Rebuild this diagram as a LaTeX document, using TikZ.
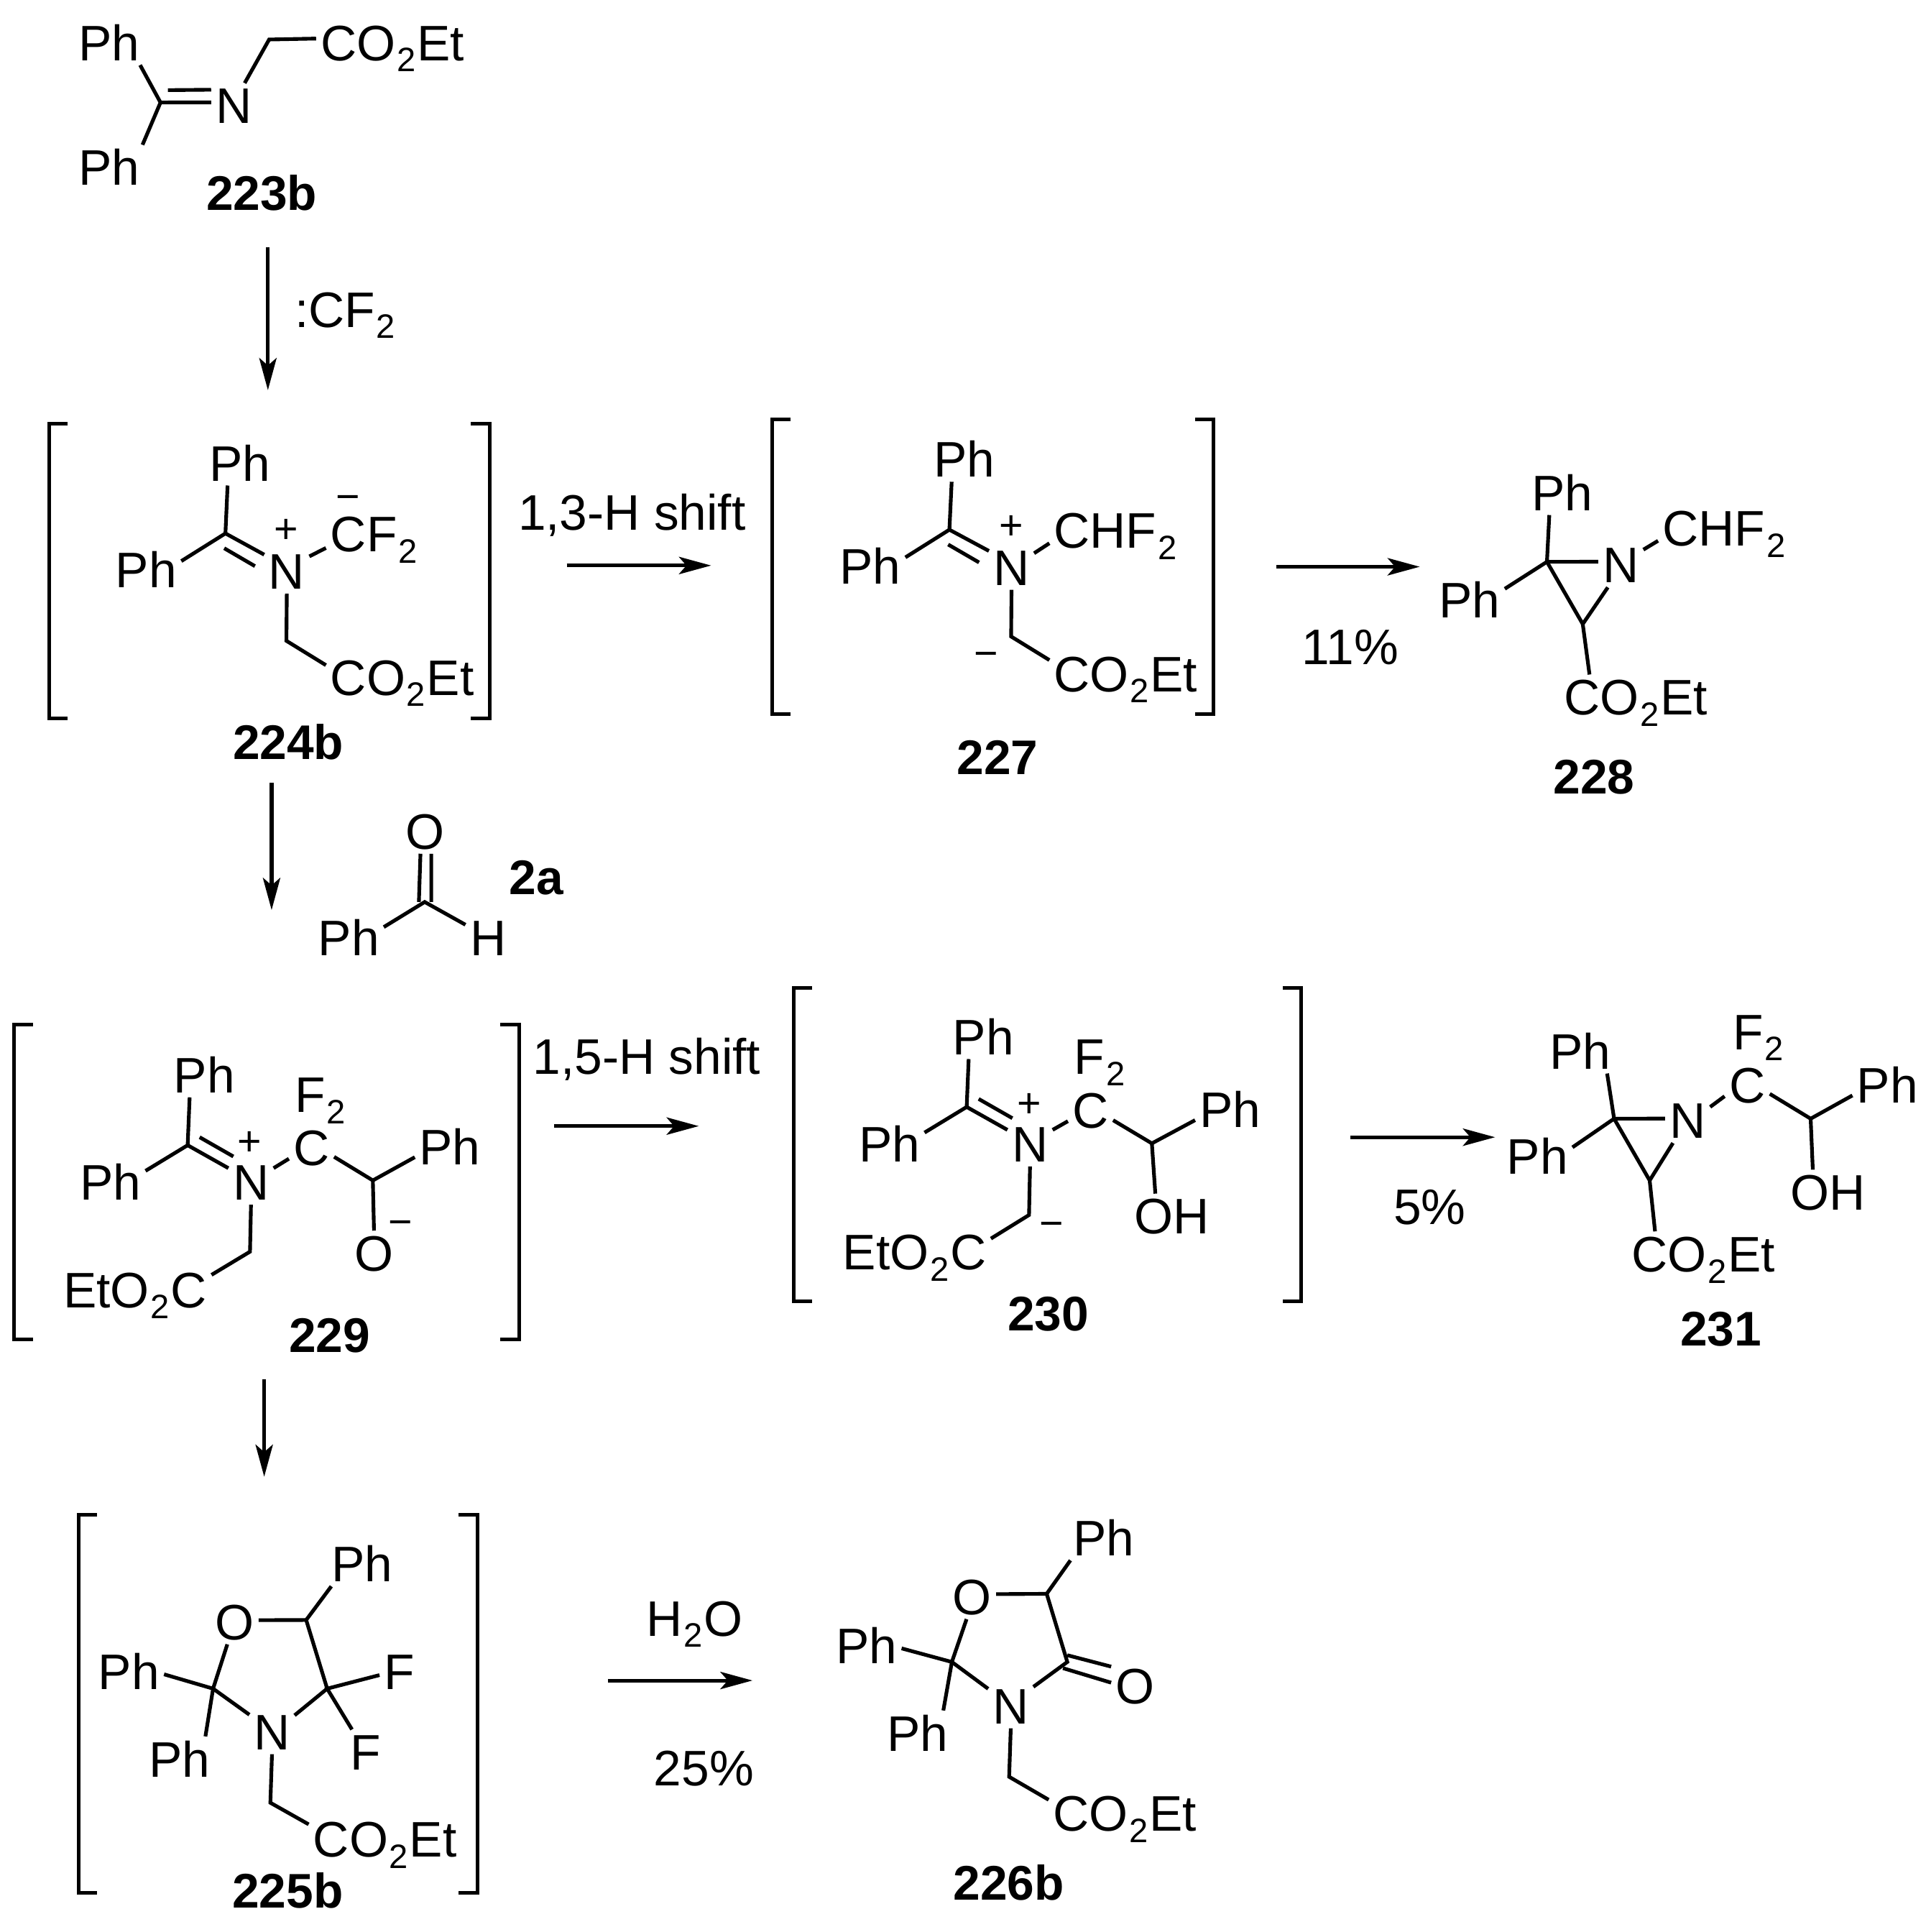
\documentclass[tikz,border=0pt]{standalone}
\usepackage{fontspec}
\setmainfont{Liberation Sans}
\usetikzlibrary{arrows.meta}
\newcommand{\subtwo}{\kern.3pt\raisebox{-2.6pt}{\fontsize{7.8}{8}\selectfont 2}\kern.3pt}
\newcommand{\COEt}{CO\subtwo Et}
\newcommand{\EtOC}{EtO\subtwo C}
\tikzset{
 bond/.style={black, line width=.85pt},
 atom/.style={font=\fontsize{11.5}{14}\selectfont, anchor=base west, inner sep=.03cm, text height=.29cm, text depth=0pt, xshift=-.06cm},
 num/.style={font=\fontsize{11.2}{14}\selectfont\bfseries, anchor=base, inner sep=0pt},
 chg/.style={font=\fontsize{9.5}{11}\selectfont, inner sep=0pt},
 neg/.style={chg, yshift=-.06cm},
 rxn/.style={bond, -{Stealth[length=.26cm, width=.14cm, inset=.06cm]}}
}
\begin{document}
\begin{tikzpicture}[x=.01cm, y=-.01cm]
\useasboundingbox (0,0) rectangle (1560,1564.7);
\foreach \xl/\xr/\yt/\yb in {40/396.5/343/582, 625.5/983/339.5/578.5, 11.5/420.4/830/1084.5, 643/1054/800/1054, 63.7/386.6/1226.6/1533} {
 \draw[bond] (\xl+15,\yt) -- (\xl,\yt) -- (\xl,\yb) -- (\xl+15,\yb);
 \draw[bond] (\xr-15,\yt) -- (\xr,\yt) -- (\xr,\yb) -- (\xr-15,\yb);
}
\foreach \n/\xa/\ya/\xb/\yb in {a/217/200/217/316, b/220/634/220/737, c/214/1117/214/1196, d/459/458/576/458, e/1034/459/1150/459, f/449/912/566/912, g/1094/921/1211/921, h/492.5/1361/609.5/1361} {
 \coordinate (\n s) at (\xa,\ya);
 \coordinate (\n e) at (\xb,\yb);
 \draw[rxn] (\n s) -- (\n e);
}
\node[atom] (cf) at (241,265) {:CF\subtwo};
\node[atom] (sh13) at (422,429.5) {1,3-H shift};
\node[atom] (y11) at (1057,538) {11\%};
\node[atom] (sh15) at (434,870) {1,5-H shift};
\node[atom] (y5) at (1131,991.6) {5\%};
\node[atom] (water) at (526,1325) {H\subtwo O};
\node[atom] (y25) at (532,1446) {25\%};

\coordinate (v223) at (130,83);
\coordinate (w223) at (136,73);
\coordinate (ch223) at (218,32);
\node[atom] (ph223a) at (66,49) {Ph};
\node[atom] (ph223b) at (66,150) {Ph};
\node[atom] (n223) at (177,100) {N};
\node[atom] (co223) at (262,49) {\COEt};
\node[num] (l223) at (212,170) {223b};
\draw[bond] (ph223a.-36) -- (v223) -- (ph223b.34);
\draw[bond] (v223) -- (n223.172);
\draw[bond] (w223) -- (n223.145);
\draw[bond] (n223.64) -- (ch223) -- (co223.177);

\coordinate (v224) at (182.6,432);
\coordinate (wa224) at (181.6,444);
\coordinate (wb224) at (206.5,458.5);
\coordinate (ch224) at (232,519);
\node[atom] (ph224a) at (172,389.5) {Ph};
\node[atom] (ph224b) at (96,476) {Ph};
\node[atom] (n224) at (220,477) {N};
\node[atom] (cf224) at (270,447) {CF\subtwo};
\node[atom] (co224) at (270,563) {\COEt};
\node[chg] (p224) at (232,430) {+};
\node[neg] (m224) at (282,401.6) {−};
\node[num] (l224) at (233.5,615) {224b};
\draw[bond] (ph224a.-119) -- (v224) -- (ph224b.14);
\draw[bond] (v224) -- (n224.144);
\draw[bond] (wa224) -- (wb224);
\draw[bond] (n224.33) -- (cf224.196);
\draw[bond] (n224.-90) -- (ch224) -- (co224.171);

\coordinate (v227) at (769,429);
\coordinate (wa227) at (768,441);
\coordinate (wb227) at (793,455.5);
\coordinate (ch227) at (819,515.5);
\node[atom] (ph227a) at (758.5,386.5) {Ph};
\node[atom] (ph227b) at (682.5,473) {Ph};
\node[atom] (n227) at (807,474) {N};
\node[atom] (chf227) at (856,444) {CHF\subtwo};
\node[atom] (co227) at (856,560) {\COEt};
\node[chg] (p227) at (819,427.5) {+};
\node[neg] (m227) at (799,528.5) {−};
\node[num] (l227) at (808,627) {227};
\draw[bond] (ph227a.-119) -- (v227) -- (ph227b.14);
\draw[bond] (v227) -- (n227.144);
\draw[bond] (wa227) -- (wb227);
\draw[bond] (n227.32) -- (chf227.191);
\draw[bond] (n227.-90) -- (ch227) -- (co227.170);

\coordinate (a228) at (1253,455);
\coordinate (b228) at (1282,505.4);
\node[atom] (ph228a) at (1243,413.4) {Ph};
\node[atom] (ph228b) at (1168,500.6) {Ph};
\node[atom] (n228) at (1300.5,472) {N};
\node[atom] (chf228) at (1349,442) {CHF\subtwo};
\node[atom] (co228) at (1269,579) {\COEt};
\node[num] (l228) at (1291,643) {228};
\draw[bond] (ph228a.-120) -- (a228) -- (ph228b.18);
\draw[bond] (a228) -- (n228.172);
\draw[bond] (a228) -- (b228) -- (n228.-120);
\draw[bond] (b228) -- (co228.154);
\draw[bond] (n228.34) -- (chf228.191);

\coordinate (v2a) at (344,730.5);
\coordinate (wa2a) at (339.3,730.5);
\coordinate (wb2a) at (349.3,730.5);
\node[atom] (o2a) at (331,687.7) {O};
\node[atom] (ph2a) at (260,774) {Ph};
\node[atom] (h2a) at (383,774) {H};
\node[num, anchor=base west] (l2a) at (412,724.5) {2a};
\draw[bond] (o2a.-102) -- (wa2a);
\draw[bond] (o2a.-75) -- (wb2a);
\draw[bond] (ph2a.17) -- (v2a) -- (h2a.150);

\coordinate (v229) at (152,927.5);
\coordinate (wa229) at (161.7,921);
\coordinate (wb229) at (189,936.6);
\coordinate (ch229) at (302,956);
\coordinate (cj229) at (202.5,1013.7);
\node[atom] (ph229a) at (143,885) {Ph};
\node[atom] (ph229b) at (67,972) {Ph};
\node[atom] (n229) at (191,972) {N};
\node[atom] (c229) at (240,944) {C};
\node[atom] (f229) at (241,901) {F\subtwo};
\node[atom] (ph229c) at (342,943) {Ph};
\node[atom] (o229) at (289.5,1029.4) {O};
\node[atom] (eto229) at (53.7,1059) {\EtOC};
\node[chg] (p229) at (202,926) {+};
\node[neg] (m229) at (324.4,989) {−};
\node[num] (l229) at (267,1095.5) {229};
\draw[bond] (ph229a.-123) -- (v229) -- (ph229b.18);
\draw[bond] (v229) -- (n229.148);
\draw[bond] (wa229) -- (wb229);
\draw[bond] (n229.32) -- (c229.206);
\draw[bond] (c229.-22) -- (ch229) -- (ph229c.-163);
\draw[bond] (ch229) -- (o229.90);
\draw[bond] (n229.-90) -- (cj229) -- (eto229.11);

\coordinate (v230) at (783,896.5);
\coordinate (wa230) at (792.7,890);
\coordinate (wb230) at (820,905.6);
\coordinate (ch230) at (933,926);
\coordinate (cj230) at (833.5,984);
\node[atom] (ph230a) at (774,854) {Ph};
\node[atom] (ph230b) at (698,941) {Ph};
\node[atom] (n230) at (822,941) {N};
\node[atom] (c230) at (871,913.6) {C};
\node[atom] (f230) at (872.5,870) {F\subtwo};
\node[atom] (ph230c) at (974,913) {Ph};
\node[atom] (oh230) at (921,999.4) {OH};
\node[atom] (eto230) at (685,1028.5) {\EtOC};
\node[chg] (p230) at (833.5,895) {+};
\node[neg] (m230) at (852,990) {−};
\node[num] (l230) at (849,1078) {230};
\draw[bond] (ph230a.-123) -- (v230) -- (ph230b.18);
\draw[bond] (v230) -- (n230.148);
\draw[bond] (wa230) -- (wb230);
\draw[bond] (n230.32) -- (c230.206);
\draw[bond] (c230.-24) -- (ch230) -- (ph230c.-163);
\draw[bond] (ch230) -- (oh230.126);
\draw[bond] (n230.-90) -- (cj230) -- (eto230.10);

\coordinate (a231) at (1307.4,906);
\coordinate (b231) at (1336.2,956);
\coordinate (ch231) at (1466.6,906);
\node[atom] (ph231a) at (1257.6,865.7) {Ph};
\node[atom] (ph231b) at (1222.8,950.8) {Ph};
\node[atom] (n231) at (1354.6,922) {N};
\node[atom] (c231) at (1402.9,893) {C};
\node[atom] (f231) at (1405.9,850) {F\subtwo};
\node[atom] (ph231c) at (1506.4,893) {Ph};
\node[atom] (oh231) at (1452.6,980) {OH};
\node[atom] (co231) at (1323.8,1030) {\COEt};
\node[num] (l231) at (1394,1090) {231};
\draw[bond] (ph231a.-40) -- (a231) -- (ph231b.14);
\draw[bond] (a231) -- (n231.175);
\draw[bond] (a231) -- (b231) -- (n231.-123);
\draw[bond] (b231) -- (co231.155);
\draw[bond] (n231.31) -- (c231.207);
\draw[bond] (c231.-22) -- (ch231) -- (ph231c.-163);
\draw[bond] (ch231) -- (oh231.124);

\coordinate (va225) at (248,1312);
\coordinate (vb225) at (265,1367.6);
\coordinate (vc225) at (172.6,1367.6);
\coordinate (ch225) at (219,1460);
\node[atom] (ph225a) at (271,1281) {Ph};
\node[atom] (o225) at (176.6,1328) {O};
\node[atom] (fa225) at (313.4,1368) {F};
\node[atom] (fb225) at (286,1433.4) {F};
\node[atom] (n225) at (208,1417) {N};
\node[atom] (ph225b) at (82,1368) {Ph};
\node[atom] (ph225c) at (123,1439) {Ph};
\node[atom] (co225) at (256,1504) {\COEt};
\node[num] (l225) at (233,1545) {225b};
\draw[bond] (o225.4) -- (va225) -- (vb225) -- (n225.36);
\draw[bond] (n225.143) -- (vc225) -- (o225.-108);
\draw[bond] (va225) -- (ph225a.-144);
\draw[bond] (fa225.-169) -- (vb225) -- (fb225.121);
\draw[bond] (ph225b.-5) -- (vc225) -- (ph225c.41);
\draw[bond] (n225.-90) -- (ch225) -- (co225.169);

\coordinate (va226) at (847.8,1290.8);
\coordinate (vb226) at (864.5,1346);
\coordinate (wb226) at (861,1351);
\coordinate (xb226) at (864.5,1340.5);
\coordinate (vc226) at (771,1346);
\coordinate (ch226) at (817.4,1439);
\node[atom] (ph226a) at (871.6,1260) {Ph};
\node[atom] (o226) at (774,1307.6) {O};
\node[atom] (n226) at (806.4,1396) {N};
\node[atom] (ok226) at (906,1380) {O};
\node[atom] (ph226b) at (679.4,1347) {Ph};
\node[atom] (ph226c) at (720.7,1418) {Ph};
\node[atom] (co226) at (855.4,1483) {\COEt};
\node[num] (l226) at (817,1538.5) {226b};
\draw[bond] (o226.6) -- (va226) -- (vb226) -- (n226.40);
\draw[bond] (n226.143) -- (vc226) -- (o226.-104);
\draw[bond] (va226) -- (ph226a.-146);
\draw[bond] (xb226) -- (ok226.141);
\draw[bond] (wb226) -- (ok226.172);
\draw[bond] (ph226b.-5) -- (vc226) -- (ph226c.41);
\draw[bond] (n226.-90) -- (ch226) -- (co226.170);
\end{tikzpicture}
\end{document}
